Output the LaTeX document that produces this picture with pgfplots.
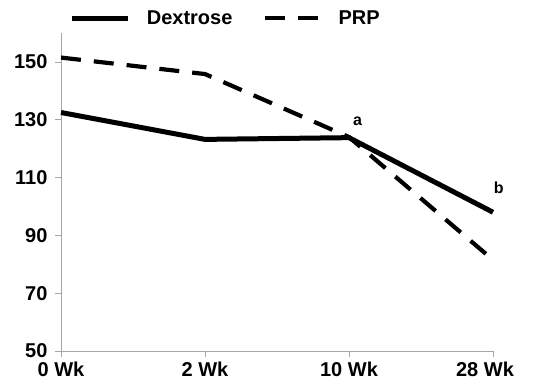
\documentclass[border=0pt]{standalone}
\usepackage{pgfplots}
\pgfplotsset{compat=1.18}
\usepackage{fontspec}
\setmainfont{Liberation Sans}
\begin{document}
\begin{tikzpicture}
\begin{axis}[
  scale only axis, width=432pt, height=318pt,
  xmin=0, xmax=3, ymin=50, ymax=160,
  xtick={0,1,2,3}, xticklabels={0 Wk,2 Wk,10 Wk,{\makebox[0pt]{\hspace{-16pt}28 Wk}}},
  ytick={50,70,90,110,130,150},
  axis x line*=bottom, axis y line*=left,
  axis line style={gray!70, line width=0.8pt, -},
  tick style={gray!70, line width=0.8pt},
  tick align=outside, major tick length=6pt,
  font=\fontsize{20}{22}\selectfont\bfseries,
  ticklabel style={font=\fontsize{20}{22}\selectfont\bfseries},
  /pgf/number format/assume math mode=true,
  yticklabel style={xshift=-4pt},
  xticklabel style={yshift=-1pt},
  legend columns=2,
  legend style={draw=none, fill=none, at={(0.02,1.0)}, anchor=west, yshift=15pt, inner sep=0pt,
    font=\fontsize{20}{22}\selectfont\bfseries,
    /tikz/every odd column/.append style={column sep=14pt},
    /tikz/every even column/.append style={column sep=28pt}},
  legend image code/.code={\draw[#1] (0pt,0pt) -- (56pt,0pt);},
  clip=false,
]
\addplot[black, line width=5pt] coordinates {(0,132.5) (1,123.2) (2,123.8) (3,98)};
\addlegendentry{Dextrose}
\addplot[black, line width=4.2pt, dash pattern=on 20pt off 13pt] coordinates {(0,151.5) (1,145.8) (2,124) (3,81.5)};
\addlegendentry{PRP}
\node[font=\fontsize{16}{18}\selectfont\bfseries] at (axis cs:2.06,129.5) {a};
\node[font=\fontsize{16}{18}\selectfont\bfseries] at (axis cs:3.04,106.5) {b};
\end{axis}
\useasboundingbox (-61pt,-33pt) rectangle (474pt,351pt);
\end{tikzpicture}
\end{document}
